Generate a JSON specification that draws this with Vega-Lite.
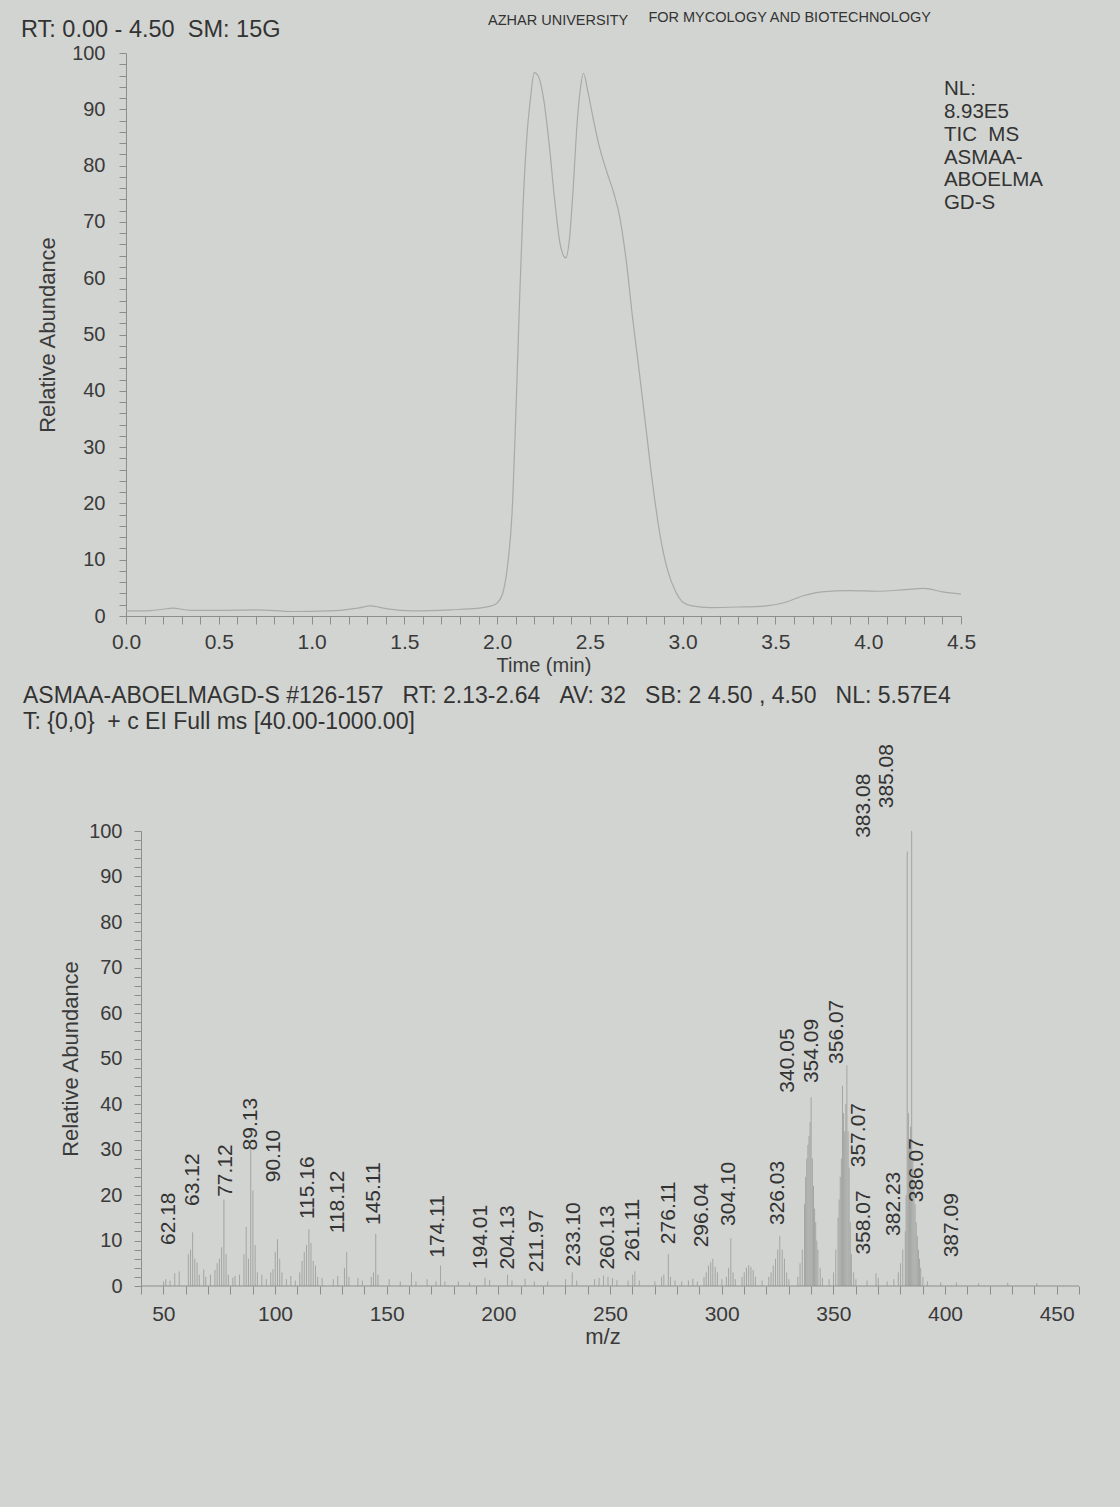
{
  "$schema": "https://vega.github.io/schema/vega-lite/v6.json",
  "background": "#d2d4d1",
  "padding": {"left": 20, "top": 10, "right": 42, "bottom": 165},
  "bounds": "flush",
  "spacing": 215,
  "config": {
    "font": "Liberation Sans",
    "view": {"stroke": null},
    "axis": {
      "domainColor": "#8c8e8b", "tickColor": "#8c8e8b", "labelColor": "#3a3a3a", "titleColor": "#3a3a3a",
      "labelFont": "Liberation Sans", "titleFont": "Liberation Sans", "labelFontSize": 19, "titleFontSize": 22,
      "titleFontWeight": "normal", "grid": false, "tickSize": 7, "labelPadding": 6, "labelOverlap": false, "labelFlush": false,
      "tickCount": 1000
    }
  },
  "vconcat": [
    {
      "width": 835,
      "height": 563,
      "layer": [
        {
          "data": {"values": [
            {"t": 0.00, "ab": 0.9}, {"t": 0.10, "ab": 0.9}, {"t": 0.20, "ab": 1.2}, {"t": 0.25, "ab": 1.4}, {"t": 0.35, "ab": 1.0},
            {"t": 0.50, "ab": 1.0}, {"t": 0.70, "ab": 1.1}, {"t": 0.90, "ab": 0.8}, {"t": 1.10, "ab": 0.9}, {"t": 1.25, "ab": 1.4},
            {"t": 1.32, "ab": 1.8}, {"t": 1.40, "ab": 1.3}, {"t": 1.55, "ab": 0.9}, {"t": 1.75, "ab": 1.1}, {"t": 1.90, "ab": 1.4},
            {"t": 1.97, "ab": 1.8}, {"t": 2.00, "ab": 2.3}, {"t": 2.03, "ab": 4}, {"t": 2.06, "ab": 10}, {"t": 2.08, "ab": 18},
            {"t": 2.10, "ab": 35}, {"t": 2.12, "ab": 55}, {"t": 2.14, "ab": 73}, {"t": 2.16, "ab": 85}, {"t": 2.18, "ab": 92},
            {"t": 2.20, "ab": 96.5}, {"t": 2.22, "ab": 96}, {"t": 2.25, "ab": 92}, {"t": 2.28, "ab": 84}, {"t": 2.31, "ab": 74},
            {"t": 2.34, "ab": 66}, {"t": 2.37, "ab": 63.6}, {"t": 2.39, "ab": 67}, {"t": 2.41, "ab": 76}, {"t": 2.43, "ab": 87},
            {"t": 2.45, "ab": 94}, {"t": 2.465, "ab": 96.4}, {"t": 2.49, "ab": 93}, {"t": 2.52, "ab": 88}, {"t": 2.55, "ab": 83.5},
            {"t": 2.59, "ab": 79}, {"t": 2.63, "ab": 75}, {"t": 2.66, "ab": 71}, {"t": 2.70, "ab": 62}, {"t": 2.73, "ab": 53},
            {"t": 2.76, "ab": 45}, {"t": 2.80, "ab": 34}, {"t": 2.84, "ab": 23}, {"t": 2.88, "ab": 14}, {"t": 2.92, "ab": 8},
            {"t": 2.96, "ab": 4.5}, {"t": 3.00, "ab": 2.5}, {"t": 3.05, "ab": 1.8}, {"t": 3.15, "ab": 1.5}, {"t": 3.30, "ab": 1.6},
            {"t": 3.45, "ab": 1.8}, {"t": 3.55, "ab": 2.4}, {"t": 3.65, "ab": 3.6}, {"t": 3.75, "ab": 4.3}, {"t": 3.90, "ab": 4.5},
            {"t": 4.05, "ab": 4.4}, {"t": 4.20, "ab": 4.7}, {"t": 4.30, "ab": 4.9}, {"t": 4.40, "ab": 4.3}, {"t": 4.50, "ab": 3.9}
          ]},
          "mark": {"type": "line", "interpolate": "monotone", "color": "#a8aaa7", "strokeWidth": 1.2},
          "encoding": {
            "x": {"field": "t", "type": "quantitative", "scale": {"domain": [0, 4.5], "nice": false, "zero": false},
              "axis": {"values": [0,0.1,0.2,0.3,0.4,0.5,0.6,0.7,0.8,0.9,1,1.1,1.2,1.3,1.4,1.5,1.6,1.7,1.8,1.9,2,2.1,2.2,2.3,2.4,2.5,2.6,2.7,2.8,2.9,3,3.1,3.2,3.3,3.4,3.5,3.6,3.7,3.8,3.9,4,4.1,4.2,4.3,4.4,4.5],
                "labelExpr": "(round(datum.value*10) % 5 == 0) ? format(datum.value, '.1f') : ''",
                "labelFontSize": 21, "labelPadding": 7, "tickSize": 8,
                "title": "Time (min)", "titleFontSize": 20, "titlePadding": 3}},
            "y": {"field": "ab", "type": "quantitative", "scale": {"domain": [0, 100], "nice": false},
              "axis": {"values": [0,2,4,6,8,10,12,14,16,18,20,22,24,26,28,30,32,34,36,38,40,42,44,46,48,50,52,54,56,58,60,62,64,66,68,70,72,74,76,78,80,82,84,86,88,90,92,94,96,98,100],
                "labelExpr": "(round(datum.value) % 10 == 0) ? format(datum.value, 'd') : ''",
                "labelPadding": 14, "labelFontSize": 20,
                "title": "Relative Abundance", "titlePadding": 12}}
          }
        },
        {
          "data": {"values": [{"x": -0.566, "y": 102.8, "txt": "RT: 0.00 - 4.50\u00a0\u00a0SM: 15G"}]},
          "mark": {"type": "text", "align": "left", "baseline": "alphabetic", "fontSize": 23.5, "color": "#333333"},
          "encoding": {"x": {"field": "x", "type": "quantitative"}, "y": {"field": "y", "type": "quantitative"}, "text": {"field": "txt"}}
        },
        {
          "data": {"values": [{"x": 1.951, "y": 104.97, "txt": "AZHAR UNIVERSITY"}]},
          "mark": {"type": "text", "align": "left", "baseline": "alphabetic", "fontSize": 14.5, "color": "#333333"},
          "encoding": {"x": {"field": "x", "type": "quantitative"}, "y": {"field": "y", "type": "quantitative"}, "text": {"field": "txt"}}
        },
        {
          "data": {"values": [{"x": 4.338, "y": 105.5, "txt": "FOR MYCOLOGY AND BIOTECHNOLOGY"}]},
          "mark": {"type": "text", "align": "right", "baseline": "alphabetic", "fontSize": 14.5, "color": "#333333"},
          "encoding": {"x": {"field": "x", "type": "quantitative"}, "y": {"field": "y", "type": "quantitative"}, "text": {"field": "txt"}}
        },
        {
          "data": {"values": [{"x": 4.408, "y": 92.5, "txt": "NL:\n8.93E5\nTIC\u00a0\u00a0MS\nASMAA-\nABOELMA\nGD-S"}]},
          "mark": {"type": "text", "align": "left", "baseline": "alphabetic", "fontSize": 20.5, "lineBreak": "\n", "lineHeight": 22.8, "color": "#333333"},
          "encoding": {"x": {"field": "x", "type": "quantitative"}, "y": {"field": "y", "type": "quantitative"}, "text": {"field": "txt"}}
        }
      ]
    },
    {
      "width": 953,
      "height": 455,
      "layer": [
        {
          "data": {"values": [
            {"mz": 50.1, "ab": 1.0}, {"mz": 51.1, "ab": 1.5}, {"mz": 53.0, "ab": 1.2}, {"mz": 55.1, "ab": 2.8}, {"mz": 57.1, "ab": 3.2},
            {"mz": 61.2, "ab": 7.0}, {"mz": 62.18, "ab": 8.0}, {"mz": 63.12, "ab": 11.8}, {"mz": 64.1, "ab": 6.0}, {"mz": 65.1, "ab": 5.2},
            {"mz": 66.1, "ab": 2.5}, {"mz": 68.1, "ab": 3.6}, {"mz": 69.0, "ab": 2.0}, {"mz": 71.1, "ab": 2.5}, {"mz": 73.1, "ab": 3.5},
            {"mz": 74.1, "ab": 5.0}, {"mz": 75.1, "ab": 6.0}, {"mz": 76.1, "ab": 8.5}, {"mz": 77.12, "ab": 19.0}, {"mz": 78.1, "ab": 7.0},
            {"mz": 79.1, "ab": 2.5}, {"mz": 81.1, "ab": 1.8}, {"mz": 82.1, "ab": 2.2}, {"mz": 84.1, "ab": 2.5}, {"mz": 86.1, "ab": 7.0},
            {"mz": 87.1, "ab": 13.0}, {"mz": 88.1, "ab": 6.0}, {"mz": 89.13, "ab": 30.0}, {"mz": 90.1, "ab": 21.0}, {"mz": 91.1, "ab": 9.0},
            {"mz": 92.1, "ab": 3.0}, {"mz": 94.1, "ab": 2.5}, {"mz": 96.1, "ab": 1.5}, {"mz": 98.1, "ab": 3.0}, {"mz": 99.1, "ab": 3.7},
            {"mz": 100.1, "ab": 7.5}, {"mz": 101.1, "ab": 10.3}, {"mz": 102.1, "ab": 6.0}, {"mz": 103.1, "ab": 3.0}, {"mz": 105.1, "ab": 1.5},
            {"mz": 107.1, "ab": 2.2}, {"mz": 109.1, "ab": 1.2}, {"mz": 111.1, "ab": 3.0}, {"mz": 112.1, "ab": 5.5}, {"mz": 113.1, "ab": 7.5},
            {"mz": 114.1, "ab": 9.0}, {"mz": 115.16, "ab": 12.5}, {"mz": 116.1, "ab": 9.5}, {"mz": 117.1, "ab": 5.5}, {"mz": 118.12, "ab": 4.5},
            {"mz": 119.1, "ab": 2.0}, {"mz": 121.1, "ab": 1.8}, {"mz": 126.1, "ab": 1.5}, {"mz": 128.1, "ab": 2.2}, {"mz": 131.1, "ab": 4.0},
            {"mz": 132.1, "ab": 7.5}, {"mz": 133.1, "ab": 2.0}, {"mz": 137.1, "ab": 1.8}, {"mz": 139.1, "ab": 1.2}, {"mz": 143.1, "ab": 2.0},
            {"mz": 144.1, "ab": 3.0}, {"mz": 145.11, "ab": 11.5}, {"mz": 146.1, "ab": 2.5}, {"mz": 151.1, "ab": 1.5}, {"mz": 156.1, "ab": 1.0},
            {"mz": 161.1, "ab": 3.0}, {"mz": 163.1, "ab": 1.0}, {"mz": 168.1, "ab": 1.5}, {"mz": 172.1, "ab": 1.0}, {"mz": 174.11, "ab": 4.5},
            {"mz": 176.1, "ab": 1.0}, {"mz": 182.1, "ab": 1.0}, {"mz": 187.1, "ab": 0.8}, {"mz": 194.01, "ab": 1.8}, {"mz": 196.1, "ab": 1.3},
            {"mz": 204.13, "ab": 2.5}, {"mz": 206.1, "ab": 1.2}, {"mz": 211.97, "ab": 1.6}, {"mz": 216.1, "ab": 1.0}, {"mz": 222.1, "ab": 1.0},
            {"mz": 230.1, "ab": 1.5}, {"mz": 233.1, "ab": 3.0}, {"mz": 235.1, "ab": 1.2}, {"mz": 243.1, "ab": 1.5}, {"mz": 245.1, "ab": 1.8},
            {"mz": 247.1, "ab": 2.3}, {"mz": 249.1, "ab": 2.0}, {"mz": 251.1, "ab": 1.7}, {"mz": 253.1, "ab": 1.3}, {"mz": 258.1, "ab": 1.2},
            {"mz": 260.13, "ab": 2.5}, {"mz": 261.11, "ab": 3.2}, {"mz": 263.1, "ab": 1.2}, {"mz": 270.1, "ab": 1.0}, {"mz": 273.1, "ab": 2.0},
            {"mz": 274.1, "ab": 2.5}, {"mz": 276.11, "ab": 7.0}, {"mz": 277.1, "ab": 2.0}, {"mz": 279.1, "ab": 1.2}, {"mz": 282.1, "ab": 1.0},
            {"mz": 285.1, "ab": 1.2}, {"mz": 287.1, "ab": 1.6}, {"mz": 289.1, "ab": 1.0}, {"mz": 292.1, "ab": 2.0}, {"mz": 293.1, "ab": 3.0},
            {"mz": 294.1, "ab": 4.5}, {"mz": 295.1, "ab": 5.2}, {"mz": 296.04, "ab": 6.0}, {"mz": 297.1, "ab": 4.2}, {"mz": 298.1, "ab": 3.0},
            {"mz": 300.1, "ab": 1.5}, {"mz": 302.1, "ab": 2.0}, {"mz": 303.1, "ab": 4.0}, {"mz": 304.1, "ab": 10.5}, {"mz": 305.1, "ab": 3.0},
            {"mz": 306.1, "ab": 1.5}, {"mz": 309.1, "ab": 2.0}, {"mz": 310.1, "ab": 3.0}, {"mz": 311.1, "ab": 4.0}, {"mz": 312.1, "ab": 4.6},
            {"mz": 313.1, "ab": 4.2}, {"mz": 314.1, "ab": 3.5}, {"mz": 315.1, "ab": 2.0}, {"mz": 318.1, "ab": 1.2}, {"mz": 321.1, "ab": 2.0},
            {"mz": 322.1, "ab": 3.0}, {"mz": 323.1, "ab": 4.5}, {"mz": 324.1, "ab": 6.0}, {"mz": 325.1, "ab": 8.0}, {"mz": 326.03, "ab": 11.0},
            {"mz": 327.1, "ab": 8.0}, {"mz": 328.1, "ab": 6.0}, {"mz": 329.1, "ab": 3.0}, {"mz": 330.1, "ab": 1.5}, {"mz": 334.1, "ab": 2.0},
            {"mz": 335.1, "ab": 5.0}, {"mz": 336.1, "ab": 8.0}, {"mz": 337.1, "ab": 18.0}, {"mz": 337.6, "ab": 24.0}, {"mz": 338.1, "ab": 28.0},
            {"mz": 338.6, "ab": 31.0}, {"mz": 339.1, "ab": 33.0}, {"mz": 339.6, "ab": 36.0}, {"mz": 340.05, "ab": 41.5}, {"mz": 340.6, "ab": 28.0},
            {"mz": 341.1, "ab": 22.0}, {"mz": 341.6, "ab": 17.0}, {"mz": 342.1, "ab": 14.0}, {"mz": 342.6, "ab": 10.0}, {"mz": 343.1, "ab": 8.0},
            {"mz": 344.1, "ab": 4.0}, {"mz": 345.1, "ab": 1.8}, {"mz": 348.1, "ab": 1.5}, {"mz": 350.1, "ab": 3.0}, {"mz": 351.1, "ab": 8.0},
            {"mz": 352.1, "ab": 15.0}, {"mz": 352.6, "ab": 19.0}, {"mz": 353.1, "ab": 24.0}, {"mz": 353.6, "ab": 28.0}, {"mz": 354.09, "ab": 44.0},
            {"mz": 354.6, "ab": 38.0}, {"mz": 355.1, "ab": 34.0}, {"mz": 355.6, "ab": 40.0}, {"mz": 356.07, "ab": 48.5}, {"mz": 356.6, "ab": 34.0},
            {"mz": 357.07, "ab": 26.0}, {"mz": 357.6, "ab": 14.0}, {"mz": 358.07, "ab": 7.0}, {"mz": 359.1, "ab": 3.0}, {"mz": 360.1, "ab": 1.5},
            {"mz": 365.1, "ab": 1.2}, {"mz": 369.1, "ab": 2.8}, {"mz": 370.1, "ab": 1.8}, {"mz": 374.1, "ab": 1.0}, {"mz": 377.1, "ab": 1.5},
            {"mz": 379.1, "ab": 3.0}, {"mz": 380.1, "ab": 5.0}, {"mz": 381.1, "ab": 8.0}, {"mz": 382.23, "ab": 12.0}, {"mz": 382.6, "ab": 20.0},
            {"mz": 383.08, "ab": 95.5}, {"mz": 383.6, "ab": 38.0}, {"mz": 384.1, "ab": 30.0}, {"mz": 384.6, "ab": 35.0}, {"mz": 385.08, "ab": 100.0},
            {"mz": 385.6, "ab": 28.0}, {"mz": 386.07, "ab": 22.0}, {"mz": 386.6, "ab": 18.0}, {"mz": 387.09, "ab": 14.0}, {"mz": 387.6, "ab": 11.0},
            {"mz": 388.1, "ab": 8.0}, {"mz": 388.6, "ab": 6.0}, {"mz": 389.1, "ab": 4.0}, {"mz": 390.1, "ab": 2.0}, {"mz": 392.1, "ab": 1.0},
            {"mz": 398.1, "ab": 0.8}, {"mz": 405.1, "ab": 0.8}, {"mz": 415.1, "ab": 0.6}, {"mz": 428.1, "ab": 0.7}, {"mz": 441.1, "ab": 0.6}
          ]},
          "mark": {"type": "rule", "color": "#a3a5a2", "strokeWidth": 1},
          "encoding": {
            "x": {"field": "mz", "type": "quantitative", "scale": {"domain": [33.28, 460], "nice": false, "zero": false},
              "axis": {"values": [40,50,60,70,80,90,100,110,120,130,140,150,160,170,180,190,200,210,220,230,240,250,260,270,280,290,300,310,320,330,340,350,360,370,380,390,400,410,420,430,440,450,460],
                "labelExpr": "(round(datum.value) % 50 == 0) ? format(datum.value, 'd') : ''",
                "domain": false, "labelFontSize": 21, "labelPadding": 9, "tickSize": 8,
                "title": "m/z", "titleFontSize": 22, "titlePadding": 2}},
            "y": {"field": "ab", "type": "quantitative", "scale": {"domain": [0, 100], "nice": false},
              "axis": {"values": [0,2,4,6,8,10,12,14,16,18,20,22,24,26,28,30,32,34,36,38,40,42,44,46,48,50,52,54,56,58,60,62,64,66,68,70,72,74,76,78,80,82,84,86,88,90,92,94,96,98,100],
                "labelExpr": "(round(datum.value) % 10 == 0) ? format(datum.value, 'd') : ''",
                "offset": -15, "labelPadding": 12, "labelFontSize": 20,
                "title": "Relative Abundance", "titlePadding": 6}},
            "y2": {"datum": 0}
          }
        },
        {
          "data": {"values": [{"x0": 40, "x1": 460, "y0": 0}]},
          "mark": {"type": "rule", "color": "#8c8e8b", "strokeWidth": 1},
          "encoding": {"x": {"field": "x0", "type": "quantitative"}, "x2": {"field": "x1"}, "y": {"field": "y0", "type": "quantitative"}}
        },
        {
          "data": {"values": [
            {"label": "62.18", "lx": 52.7, "ly": 9.0}, {"label": "63.12", "lx": 63.4, "ly": 17.6}, {"label": "77.12", "lx": 78.2, "ly": 19.6},
            {"label": "89.13", "lx": 89.4, "ly": 29.8}, {"label": "90.10", "lx": 99.7, "ly": 22.8}, {"label": "115.16", "lx": 114.9, "ly": 14.7},
            {"label": "118.12", "lx": 128.4, "ly": 11.6}, {"label": "145.11", "lx": 144.5, "ly": 13.4}, {"label": "174.11", "lx": 173.2, "ly": 6.2},
            {"label": "194.01", "lx": 192.4, "ly": 3.7}, {"label": "204.13", "lx": 204.5, "ly": 3.6}, {"label": "211.97", "lx": 217.1, "ly": 3.0},
            {"label": "233.10", "lx": 233.7, "ly": 4.3}, {"label": "260.13", "lx": 249.3, "ly": 3.6}, {"label": "261.11", "lx": 260.5, "ly": 5.4},
            {"label": "276.11", "lx": 276.2, "ly": 9.2}, {"label": "296.04", "lx": 291.0, "ly": 8.5}, {"label": "304.10", "lx": 303.5, "ly": 13.2},
            {"label": "326.03", "lx": 325.0, "ly": 13.4}, {"label": "340.05", "lx": 329.5, "ly": 42.5}, {"label": "354.09", "lx": 340.3, "ly": 44.6},
            {"label": "356.07", "lx": 351.5, "ly": 48.8}, {"label": "357.07", "lx": 361.3, "ly": 26.1}, {"label": "358.07", "lx": 363.6, "ly": 6.9},
            {"label": "382.23", "lx": 377.0, "ly": 11.0}, {"label": "383.08", "lx": 363.6, "ly": 98.5}, {"label": "385.08", "lx": 373.9, "ly": 105.0},
            {"label": "386.07", "lx": 387.3, "ly": 18.4}, {"label": "387.09", "lx": 403.0, "ly": 6.3}
          ]},
          "mark": {"type": "text", "angle": 270, "align": "left", "baseline": "middle", "fontSize": 21, "color": "#333333"},
          "encoding": {"x": {"field": "lx", "type": "quantitative"}, "y": {"field": "ly", "type": "quantitative"}, "text": {"field": "label"}}
        },
        {
          "data": {"values": [
            {"x": -12.86, "y": 128.13, "txt": "ASMAA-ABOELMAGD-S #126-157\u00a0\u00a0\u00a0RT: 2.13-2.64\u00a0\u00a0\u00a0AV: 32\u00a0\u00a0\u00a0SB: 2 4.50 , 4.50\u00a0\u00a0\u00a0NL: 5.57E4"},
            {"x": -12.86, "y": 122.4, "txt": "T: {0,0}\u00a0\u00a0+ c EI Full ms [40.00-1000.00]"}
          ]},
          "mark": {"type": "text", "align": "left", "baseline": "alphabetic", "fontSize": 23, "color": "#333333"},
          "encoding": {"x": {"field": "x", "type": "quantitative"}, "y": {"field": "y", "type": "quantitative"}, "text": {"field": "txt"}}
        }
      ]
    }
  ]
}
